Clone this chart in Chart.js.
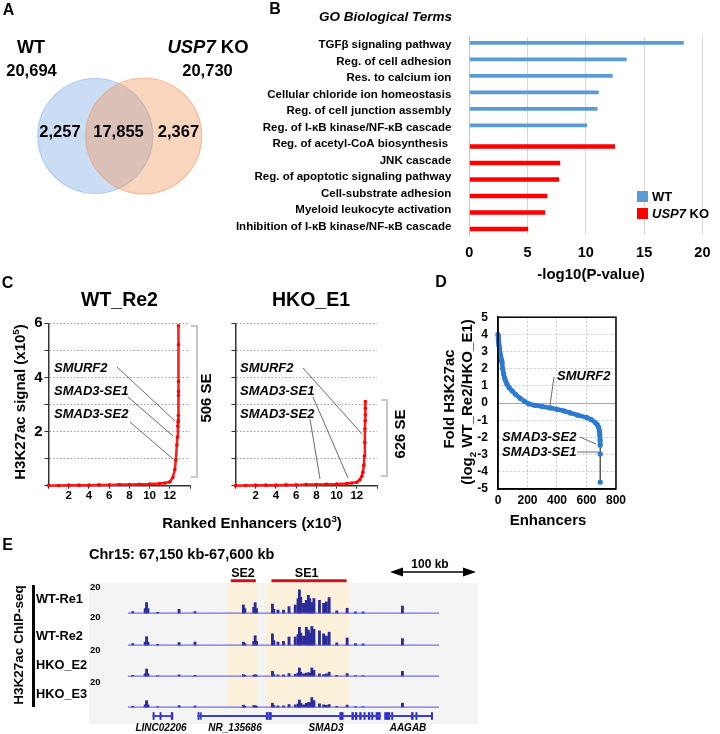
<!DOCTYPE html>
<html>
<head>
<meta charset="utf-8">
<script src="https://cdn.jsdelivr.net/npm/chart.js@4.4.1/dist/chart.umd.min.js"></script>
<style>
  body { margin: 0; width: 720px; height: 734px; position: relative; background: #fff; overflow: hidden;
         font-family: "Liberation Sans", Arial, sans-serif; }
  canvas, .lbl, .box { position: absolute; }
  .lbl { white-space: nowrap; font-weight: bold; line-height: 1; color: #000; }
  sup, sub { font-size: 65%; line-height: 0; }
</style>
</head>
<body>
<div class="box" style="left:89px;top:583px;width:389px;height:141px;background:#f4f4f4"></div>

<canvas id="venn" width="223" height="132" style="left:7.7px;top:70px"></canvas>
<canvas id="go" width="520" height="265" style="left:200px;top:20px"></canvas>
<canvas id="cWT" width="200" height="200" style="left:0px;top:310px"></canvas>
<canvas id="cHKO" width="200" height="200" style="left:190px;top:310px"></canvas>
<canvas id="fold" width="190" height="210" style="left:440px;top:300px"></canvas>
<canvas id="seBands" width="389" height="131" style="left:89px;top:577px"></canvas>
<canvas id="tr0" width="389" height="31" style="left:89px;top:583.2px"></canvas>
<canvas id="tr1" width="389" height="31" style="left:89px;top:614.6px"></canvas>
<canvas id="tr2" width="389" height="31" style="left:89px;top:645.6px"></canvas>
<canvas id="tr3" width="389" height="31" style="left:89px;top:676.6px"></canvas>
<canvas id="genes" width="389" height="16" style="left:89px;top:708px"></canvas>

<svg width="720" height="734" style="position:absolute;left:0;top:0">
  <g stroke="#444" stroke-width="0.8">
    <line x1="117" y1="367" x2="175" y2="421"/>
    <line x1="128" y1="397" x2="173" y2="436"/>
    <line x1="130" y1="422" x2="173" y2="459"/>
    <line x1="303" y1="368" x2="362" y2="434"/>
    <line x1="313" y1="397" x2="348" y2="478"/>
    <line x1="310" y1="419" x2="320" y2="479"/>
    <line x1="554" y1="377" x2="550" y2="405"/>
    <line x1="580" y1="437" x2="596" y2="444"/>
    <line x1="577" y1="452" x2="598" y2="452"/>
  </g>
  <g stroke="#c8c8c8" stroke-width="2" fill="none">
    <path d="M191 326 H197 V477 H191"/>
    <path d="M381 400 H387 V476 H381"/>
  </g>
  <rect x="32" y="585" width="3" height="122" fill="#000"/>
  <line x1="398" y1="572" x2="468" y2="572" stroke="#000" stroke-width="1.5"/>
  <polygon points="390,572 403,567.5 403,576.5" fill="#000"/>
  <polygon points="476,572 463,567.5 463,576.5" fill="#000"/>
</svg>

<script>
// ---- Panel A: peak overlap
const vennSets = ['WT', 'USP7 KO'];
const vennTotals = [20694, 20730];
const vennOnly = [2257, 2367];
const vennShared = 17855;

// ---- Panel B: GO terms, -log10(P)
const goTerms = ['TGFβ signaling pathway', 'Reg. of cell adhesion', 'Res. to calcium ion',
  'Cellular chloride ion homeostasis', 'Reg. of cell junction assembly', 'Reg. of I-κB kinase/NF-κB cascade',
  'Reg. of acetyl-CoA biosynthesis ', 'JNK cascade', 'Reg. of apoptotic signaling pathway',
  'Cell-substrate adhesion', 'Myeloid leukocyte activation', 'Inhibition of I-κB kinase/NF-κB cascade'];
const goWT = [18.4, 13.5, 12.3, 11.1, 11.0, 10.1, null, null, null, null, null, null];
const goKO = [null, null, null, null, null, null, 12.5, 7.8, 7.7, 6.7, 6.5, 5.05];
const goTicks = [0, 5, 10, 15, 20];

// ---- Panel C: ranked enhancers (x10^3) vs H3K27ac signal (x10^5)
const wtRank = [0, 1, 2, 3, 4, 5, 6, 7, 8, 9, 10, 11, 11.5, 12, 12.3, 12.5, 12.6, 12.7, 12.75, 12.8, 12.82, 12.84, 12.85, 12.86, 12.86, 12.86, 12.86, 12.86];
const wtSignal = [0.01, 0.01, 0.02, 0.02, 0.02, 0.03, 0.03, 0.04, 0.04, 0.05, 0.06, 0.08, 0.1, 0.14, 0.3, 0.6, 0.95, 1.5, 1.8, 2.2, 2.35, 2.43, 2.59, 3.33, 3.48, 3.85, 5.21, 5.91];
const hkoRank = [0, 1, 2, 3, 4, 5, 6, 7, 8, 9, 10, 11, 11.5, 12, 12.3, 12.5, 12.6, 12.7, 12.75, 12.79, 12.81, 12.83, 12.84, 12.84, 12.85];
const hkoSignal = [0.01, 0.01, 0.02, 0.02, 0.02, 0.03, 0.03, 0.04, 0.04, 0.05, 0.06, 0.08, 0.1, 0.13, 0.22, 0.35, 0.5, 0.75, 1.1, 1.6, 2.1, 2.4, 2.62, 2.86, 3.11];
const seCounts = [506, 626];

// ---- Panel D: fold change per super-enhancer
const foldRank = [0, 2, 4, 6, 8, 10, 13, 16, 20, 24, 27, 32, 38, 45, 52, 61, 75, 95, 120, 151, 180, 208, 250, 300, 355, 400, 450, 490, 540, 603, 630, 660, 672, 682, 687, 690, 692, 693, 693, 693];
const foldLog2 = [4.0, 3.75, 3.6, 3.45, 3.3, 3.1, 2.95, 2.8, 2.6, 2.5, 2.35, 2.0, 1.7, 1.45, 1.3, 1.1, 0.9, 0.72, 0.5, 0.28, 0.1, -0.04, -0.13, -0.2, -0.28, -0.36, -0.46, -0.57, -0.7, -0.85, -0.95, -1.13, -1.25, -1.4, -1.6, -1.85, -2.15, -2.45, -2.96, -4.6];

// ---- Panel E: tracks (chr15, kb)
const regionKb = [67150, 67600];
const trackNames = ['WT-Re1', 'WT-Re2', 'HKO_E2', 'HKO_E3'];
const peakKb = [67157, 67175, 67177, 67179, 67193, 67224, 67247, 67317, 67319, 67332, 67334, 67336, 67359, 67361, 67367, 67375, 67383, 67392, 67396, 67398, 67400, 67404, 67408, 67411, 67413, 67416, 67419, 67427, 67433, 67437, 67441, 67452, 67467, 67479, 67490, 67547];
const trackWT1 = [1, 3, 7, 3, 0.5, 2.5, 1, 5.4, 3, 3.9, 6.9, 3, 6, 2.5, 2, 2, 4.3, 5.4, 9.5, 15.5, 10.5, 6.5, 8.5, 11.8, 9.5, 7, 9.7, 8.5, 6.5, 7.5, 10.3, 1.5, 3.2, 0.8, 0.8, 4.7];
const trackWT2 = [1, 2, 5.6, 2, 0.5, 1.7, 2, 2, 1, 2.5, 6.2, 2.5, 7.5, 3, 2, 2.5, 5.4, 5.4, 7, 11.8, 8, 6, 11.8, 10, 8, 12.4, 10.5, 9.5, 7.5, 6, 8.6, 1.5, 4.7, 1, 0.8, 4.3];
const trackKO2 = [0.5, 1.5, 4.7, 1.5, 0.3, 0.8, 0.5, 1, 0.5, 0.5, 1, 0.5, 3.2, 1, 0.8, 0.8, 1.7, 1.2, 2, 5.4, 2.5, 1.5, 2, 2.2, 2, 5.4, 3.8, 1.5, 1, 1.5, 2.6, 0.5, 1.7, 0.3, 0.3, 3.2];
const trackKO3 = [0.5, 1.5, 4.3, 1.5, 0.3, 1, 0.8, 1.3, 0.5, 1, 1, 0.5, 2.6, 1, 0.8, 0.8, 1.7, 1.5, 2, 4.7, 2.5, 1.5, 2.5, 3, 3, 6.4, 4.3, 2.2, 1.5, 1.2, 1.7, 0.5, 1.3, 0.3, 0.3, 2.6];
const seNames = ['SE2', 'SE1'];
const seHiStart = [67310, 67354];
const seHiEnd = [67346, 67451];
const seBarStart = [67314, 67361];
const seBarEnd = [67343, 67448];
const geneNames = ['LINC02206', 'NR_135686', 'SMAD3', 'AAGAB'];
const geneSpans = [[67224, 67247], [67276, 67357], [67358, 67487], [67492, 67547]];
const exonSpans = [[67224, 67225.5], [67232, 67233.5], [67245, 67247], [67276, 67277.5], [67279, 67280], [67355, 67357],
  [67358, 67361], [67440, 67444], [67454, 67456], [67458, 67460], [67463, 67465], [67468, 67469.5], [67473, 67475], [67477, 67478.5], [67482, 67487],
  [67492, 67498], [67500, 67501.5], [67523, 67525], [67528, 67529.5], [67546, 67547.5]];

Chart.defaults.font.family = '"Liberation Sans", Arial, sans-serif';
Chart.defaults.font.weight = 'bold';
Chart.defaults.color = '#000';
Chart.defaults.layout.autoPadding = false;

const base = {
  responsive: false, animation: false, events: [], devicePixelRatio: 1,
  plugins: { legend: { display: false }, tooltip: { enabled: false } }
};

function label(html, x, y, o = {}) {
  const d = document.createElement('div');
  d.className = 'lbl';
  d.innerHTML = html;
  d.style.left = x + 'px';
  d.style.top = y + 'px';
  d.style.fontSize = (o.size || 14) + 'px';
  if (o.italic) d.style.fontStyle = 'italic';
  const tx = o.anchor === 'left' ? '0' : o.anchor === 'right' ? '-100%' : '-50%';
  d.style.transform = `translate(${tx}, -50%)` + (o.rotate ? ` rotate(${o.rotate}deg)` : '');
  document.body.appendChild(d);
}
const fmt = n => n.toLocaleString('en-US');

// ---------- A: Venn (orange KO circle drawn over the blue WT one)
new Chart(document.getElementById('venn'), {
  type: 'scatter',
  data: { datasets: [
    { data: [{ x: 1, y: 0 }], pointRadius: 58, backgroundColor: 'rgba(240,150,90,0.4)', borderColor: 'rgba(240,150,90,0.5)', borderWidth: 1.2, clip: false },
    { data: [{ x: 0, y: 0 }], pointRadius: 57.5, backgroundColor: 'rgba(130,175,228,0.42)', borderColor: 'rgba(130,175,228,0.55)', borderWidth: 1.2, clip: false }
  ] },
  options: { ...base, layout: { padding: 0, autoPadding: false },
    scales: { x: { min: -1.8, max: 2.8, display: false }, y: { min: -1, max: 1, display: false } } }
});
label('A', 8.5, 10, { size: 16 });
label(vennSets[0], 31, 46.5, { size: 18 });
label(fmt(vennTotals[0]), 31.5, 70, { size: 16.5 });
label('<i>USP7</i> KO', 208, 46.5, { size: 18.5 });
label(fmt(vennTotals[1]), 207.5, 70, { size: 16.5 });
label(fmt(vennOnly[0]), 60, 131, { size: 16.5 });
label(fmt(vennShared), 118.5, 131, { size: 16.5 });
label(fmt(vennOnly[1]), 178.5, 131, { size: 16.5 });

// ---------- B: GO bar chart
new Chart(document.getElementById('go'), {
  type: 'bar',
  data: { labels: goTerms, datasets: [
    { label: 'WT', data: goWT, backgroundColor: '#5b9bd5', barPercentage: 0.8, categoryPercentage: 0.55 },
    { label: 'USP7 KO', data: goKO, backgroundColor: '#ff0000', barPercentage: 1, categoryPercentage: 0.55 }
  ] },
  options: { ...base, indexAxis: 'y',
    layout: { padding: { top: 11, right: 8, left: 0, bottom: 0 }, autoPadding: false },
    scales: {
      x: { min: goTicks[0], max: goTicks[goTicks.length - 1],
        afterBuildTicks: s => { s.ticks = goTicks.map(v => ({ value: v })); },
        ticks: { padding: 9.5, font: { size: 14.5 }, maxRotation: 0 },
        grid: { color: '#d6d6d6', drawTicks: false }, border: { display: false },
        afterFit: s => { s.height = 50; } },
      y: { ticks: { padding: 10, font: { size: 11.5 }, autoSkip: false },
        grid: { display: false }, border: { color: '#c4c4c4' },
        afterFit: s => { s.width = 269.3; } }
    } }
});
label('B', 275, 9, { size: 16 });
label('GO Biological Terms', 385.5, 17, { size: 13.5, italic: true });
label('-log10(P-value)', 591, 273, { size: 15 });
[['WT', '#5b9bd5', 196], ['<i>USP7</i> KO', '#ff0000', 213]].forEach(([t, c, y]) => {
  const sq = document.createElement('div');
  sq.className = 'box';
  Object.assign(sq.style, { left: '637px', top: (y - 5.5) + 'px', width: '11px', height: '11px', background: c });
  document.body.appendChild(sq);
  label(t, 652, y, { size: 13, anchor: 'left' });
});

// ---------- C: ranked enhancer plots
function rankedChart(id, xs, ys, showY, axisW, padRight) {
  return new Chart(document.getElementById(id), {
    type: 'line',
    data: { datasets: [{ data: xs.map((x, i) => ({ x, y: ys[i] })), borderColor: '#ff1a1a', borderWidth: 2.5,
      pointRadius: 1.8, pointBackgroundColor: '#ff0000', pointBorderWidth: 0, clip: false }] },
    options: { ...base,
      layout: { padding: { top: 13.3, right: padRight, left: 0, bottom: 0 }, autoPadding: false },
      scales: {
        x: { type: 'linear', min: 0, max: 14,
          ticks: { stepSize: 2, autoSkip: false, callback: v => (v > 0 && v < 14 ? v : ''), font: { size: 11.5 }, padding: 0, maxRotation: 0 },
          grid: { drawOnChartArea: false, tickLength: 3, tickColor: '#333' },
          border: { color: '#333', width: 1.5 }, afterFit: s => { s.height = 24.3; } },
        y: { min: 0, max: 6,
          ticks: { stepSize: 1, autoSkip: false, callback: v => (showY && v > 0 && v % 2 === 0 ? v : ''), font: { size: 15 }, padding: 2 },
          grid: { color: '#9a9a9a', tickColor: '#333', tickLength: 4, tickBorderDash: [] },
          border: { color: '#333', width: 1.5, dash: [1.5, 2] }, afterFit: s => { s.width = axisW; } }
      } }
  });
}
rankedChart('cWT', wtRank, wtSignal, true, 48.5, 10);
rankedChart('cHKO', hkoRank, hkoSignal, false, 45.5, 13);
label('C', 7.5, 283, { size: 16 });
label('WT_Re2', 119.5, 300, { size: 19.5 });
label('HKO_E1', 311, 300, { size: 19.5 });
label('H3K27ac signal (x10<sup>5</sup>)', 19, 402, { size: 15, rotate: -90 });
label('Ranked Enhancers (x10<sup>3</sup>)', 252, 521.7, { size: 15 });
[54, 240].forEach(x => {
  label('SMURF2', x, 367, { size: 13, italic: true, anchor: 'left' });
  label('SMAD3-SE1', x, 390, { size: 13, italic: true, anchor: 'left' });
  label('SMAD3-SE2', x, 413, { size: 13, italic: true, anchor: 'left' });
});
label(seCounts[0] + ' SE', 205, 398, { size: 15, rotate: -90 });
label(seCounts[1] + ' SE', 399, 434, { size: 15, rotate: -90 });

// ---------- D: fold change
const blue = '#2c7bd0';
new Chart(document.getElementById('fold'), {
  type: 'line',
  data: { datasets: [{ data: foldRank.map((x, i) => ({ x, y: foldLog2[i] })), borderColor: blue, borderWidth: 4.5,
    pointRadius: 2.6, pointBackgroundColor: blue, pointBorderWidth: 0, clip: false,
    segment: { borderColor: c => (c.p1.parsed.y < -2.5 ? '#333' : blue), borderWidth: c => (c.p1.parsed.y < -2.5 ? 1.2 : 4.5) } }] },
  options: { ...base,
    layout: { padding: { top: 10.7, right: 14, left: 0, bottom: 0 }, autoPadding: false },
    scales: {
      x: { type: 'linear', min: 0, max: 800, ticks: { stepSize: 200, autoSkip: false, font: { size: 12 }, padding: 4, maxRotation: 0 },
        grid: { color: '#c8c8c8', drawTicks: false }, border: { color: '#000', width: 1.5, dash: [2, 2] },
        afterFit: s => { s.height = 21; } },
      y: { min: -5, max: 5, ticks: { stepSize: 1, autoSkip: false, font: { size: 12 }, padding: 10 },
        grid: { color: c => (c.tick && c.tick.value === 0 ? '#a8a8a8' : '#c8c8c8'), drawTicks: false },
        border: { color: '#000', width: 1.5, dash: c => (c.tick && c.tick.value === 0 ? [] : [2, 2]) },
        afterFit: s => { s.width = 58; } }
    } },
  plugins: [{ id: 'box', afterDraw(chart) {
    const { ctx, chartArea: a } = chart;
    ctx.save(); ctx.strokeStyle = '#000'; ctx.lineWidth = 1.5;
    ctx.strokeRect(a.left, a.top, a.right - a.left, a.bottom - a.top); ctx.restore();
  } }]
});
label('D', 441, 282, { size: 16 });
label('Fold H3K27ac', 448, 399, { size: 15, rotate: -90 });
label('(log<sub>2</sub> WT_Re2/HKO_E1)', 466, 402, { size: 15, rotate: -90 });
label('Enhancers', 548, 519, { size: 15 });
label('SMURF2', 557, 375, { size: 13, italic: true, anchor: 'left' });
label('SMAD3-SE2', 502, 436, { size: 13, italic: true, anchor: 'left' });
label('SMAD3-SE1', 502, 451, { size: 13, italic: true, anchor: 'left' });

// ---------- E: genome tracks
const kbScale = { type: 'linear', min: regionKb[0], max: regionKb[1], display: false };
new Chart(document.getElementById('seBands'), {
  type: 'line',
  data: { datasets: [
    ...seNames.map((n, i) => ({ data: [{ x: seHiStart[i], y: 1 }, { x: seHiEnd[i], y: 1 }], fill: 'origin',
      backgroundColor: '#fbf0d9', borderWidth: 0, pointRadius: 0 })),
    ...seNames.map((n, i) => ({ data: [{ x: seBarStart[i], y: 1.02 }, { x: seBarEnd[i], y: 1.02 }],
      borderColor: '#cc1414', borderWidth: 3, pointRadius: 0, clip: false }))
  ] },
  options: { ...base, layout: { padding: 0, autoPadding: false }, scales: { x: kbScale, y: { min: 0, max: 1.05, display: false } } }
});

[trackWT1, trackWT2, trackKO2, trackKO3].forEach((vals, t) => {
  new Chart(document.getElementById('tr' + t), {
    type: 'bar',
    data: { datasets: [
      { type: 'line', data: [{ x: regionKb[0], y: 0 }, { x: regionKb[1], y: 0 }], borderColor: '#5050ec', borderWidth: 1, pointRadius: 0, order: 0 },
      { data: peakKb.map((k, i) => ({ x: k, y: vals[i] })), backgroundColor: '#2b2b98', barThickness: 2.2, order: 1 }
    ] },
    options: { ...base, layout: { padding: 0, autoPadding: false }, scales: { x: kbScale, y: { min: -0.6, max: 20, display: false } } }
  });
});

new Chart(document.getElementById('genes'), {
  type: 'bar',
  data: { labels: ['genes'], datasets: [
    { data: geneSpans.map(s => ({ y: 'genes', x: s })), backgroundColor: '#3b3bd8', barThickness: 1.2, grouped: false },
    { data: exonSpans.map(s => ({ y: 'genes', x: s })), backgroundColor: '#2b2bc8', barThickness: 7, grouped: false }
  ] },
  options: { ...base, indexAxis: 'y', layout: { padding: 0, autoPadding: false }, scales: { x: kbScale, y: { display: false } } }
});

label('E', 7.5, 545, { size: 16 });
label('Chr15: 67,150 kb-67,600 kb', 181.7, 554, { size: 14.5 });
label(seNames[0], 243, 573, { size: 12.5 });
label(seNames[1], 306.7, 573, { size: 12.5 });
label('100 kb', 430, 564, { size: 12 });
[587, 617, 650, 682].forEach(y => label('20', 90, y, { size: 9.5, anchor: 'left' }));
[599, 636, 665, 694].forEach((y, i) => label(trackNames[i], 36, y, { size: 12.8, anchor: 'left' }));
label('H3K27ac ChIP-seq', 19, 645, { size: 13.5, rotate: -90 });
[161, 235, 326, 408].forEach((x, i) => label(geneNames[i], x, 728, { size: 10, italic: true }));
</script>
</body>
</html>
